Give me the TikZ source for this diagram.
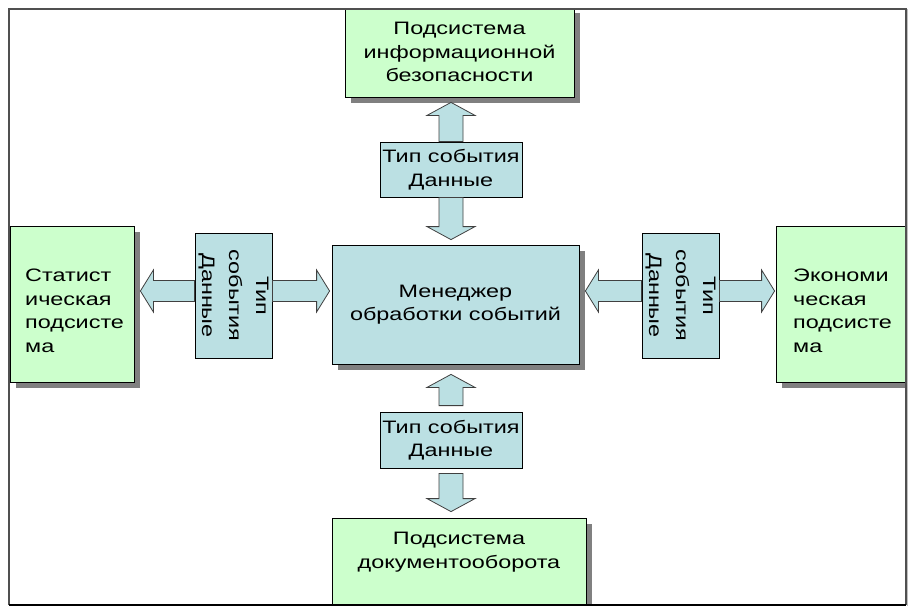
\documentclass[tikz,border=0pt]{standalone}
\usepackage{fontspec}
\setmainfont{Liberation Sans}[FakeStretch=1.3]
\usetikzlibrary{calc, shadows}

\definecolor{boxgreen}{RGB}{204,255,204}
\definecolor{boxblue}{RGB}{187,224,227}
\definecolor{shadowgray}{RGB}{128,128,128}
\definecolor{framegray}{RGB}{80,80,80}
\definecolor{arrowline}{RGB}{64,64,64}

% fat arrow: from, to, half shaft, half head
\newcommand{\blockarrow}[4]{%
  \coordinate (ba1) at #1;
  \coordinate (ba2) at #2;
  \draw[fatarrow] let \p1=(ba1), \p2=(ba2),
      \n1={veclen(\x2-\x1,\y2-\y1)},
      \n2={(\x2-\x1)/\n1}, \n3={(\y2-\y1)/\n1},
      \p3=({\x2-\n2*13pt},{\y2-\n3*13pt})
    in ({\x1-\n3*#3},{\y1+\n2*#3}) -- ({\x3-\n3*#3},{\y3+\n2*#3}) -- ({\x3-\n3*#4},{\y3+\n2*#4})
    -- (\p2) -- ({\x3+\n3*#4},{\y3-\n2*#4}) -- ({\x3+\n3*#3},{\y3-\n2*#3})
    -- ({\x1+\n3*#3},{\y1-\n2*#3}) -- cycle;
}

\begin{document}
\begin{tikzpicture}[x=1pt, y=-1pt,
    every node/.style={font=\fontsize{18}{23.5}\selectfont},
    boxshadow/.style={drop shadow={shadow xshift=6pt, shadow yshift=-6pt, fill=shadowgray, opacity=1}},
    greenbox/.style={draw=black, fill=boxgreen, line width=0.8pt, inner sep=0pt, align=center, boxshadow},
    bluebox/.style={draw=black, fill=boxblue, line width=0.8pt, inner sep=0pt, align=center},
    sidetype/.style={bluebox, rotate=-90, minimum width=125pt, minimum height=77pt,
        font=\fontsize{18}{27}\selectfont},
    fatarrow/.style={draw=arrowline, fill=boxblue, line width=0.8pt, line join=miter}]

    \fill[white] (0,0) rectangle (908,608);
    \useasboundingbox (0,0) rectangle (908,608);

    \begin{scope}
        \clip (9.5,10) rectangle (905,604);

        % subsystems
        \node[greenbox, minimum width=229pt, minimum height=90pt] (infosec) at (459.5,52)
            {Подсистема\\информационной\\безопасности};
        \node[greenbox, minimum width=124pt, minimum height=156pt] (stat) at (72,304) {};
        \node[anchor=west, align=left, inner sep=0pt] (stattext) at (25,311) {Статист\\ическая\\подсисте\\ма};
        \node[greenbox, minimum width=144pt, minimum height=156pt] (econ) at (848,304) {};
        \node[anchor=west, align=left, inner sep=0pt] (econtext) at (793,311) {Экономи\\ческая\\подсисте\\ма};
        \node[greenbox, minimum width=254pt, minimum height=100pt] (docflow) at (459,568) {};
        \node[align=center] (docflowtext) at (459,552) {Подсистема\\документооборота};

        % manager
        \node[bluebox, boxshadow, minimum width=247pt, minimum height=119pt] (manager) at (455.5,304.5)
            {Менеджер\\обработки событий};

        % event type / data
        \node[bluebox, minimum width=142pt, minimum height=55pt] (toptype) at (451,169.5) {Тип события\\Данные};
        \node[bluebox, minimum width=142pt, minimum height=56pt] (bottype) at (451,440) {Тип события\\Данные};
        \node[sidetype] (lefttype) at (233.5,295.5) {Тип\\события\\Данные};
        \node[sidetype] (righttype) at (680.5,295.5) {Тип\\события\\Данные};

        % arrows
        \blockarrow{(toptype.north)}{($(toptype.north |- infosec.south)+(0,5)$)}{12pt}{24pt}
        \blockarrow{(toptype.south)}{($(toptype.south |- manager.north)+(0,-5)$)}{12pt}{24pt}
        \blockarrow{($(bottype.north)+(0,-6)$)}{($(bottype.north |- manager.south)+(0,10)$)}{12pt}{24pt}
        \blockarrow{($(bottype.south)+(0,5)$)}{($(bottype.south |- docflow.north)+(0,-6)$)}{12pt}{24pt}
        \blockarrow{($(lefttype.south)+(0,-4.5)$)}{($(stat.east |- lefttype.center)+(6,-4.5)$)}{10.5pt}{21pt}
        \blockarrow{($(lefttype.north)+(0,-4.5)$)}{($(manager.west |- lefttype.center)+(-2,-4.5)$)}{10.5pt}{21pt}
        \blockarrow{($(righttype.south)+(0,-4.5)$)}{($(manager.east |- righttype.center)+(6,-4.5)$)}{10.5pt}{21pt}
        \blockarrow{($(righttype.north)+(0,-4.5)$)}{($(econ.west |- righttype.center)+(-1,-4.5)$)}{10.5pt}{21pt}
    \end{scope}

    % frame
    \draw[framegray, line width=2pt] (8.5,605) -- (8.5,9) -- (905.5,9) -- (905.5,605);
    \draw[gray!50, line width=1pt] (907.5,9) -- (907.5,606);
    \draw[black, line width=2.5pt] (8.5,605) -- (906,605);
\end{tikzpicture}
\end{document}
